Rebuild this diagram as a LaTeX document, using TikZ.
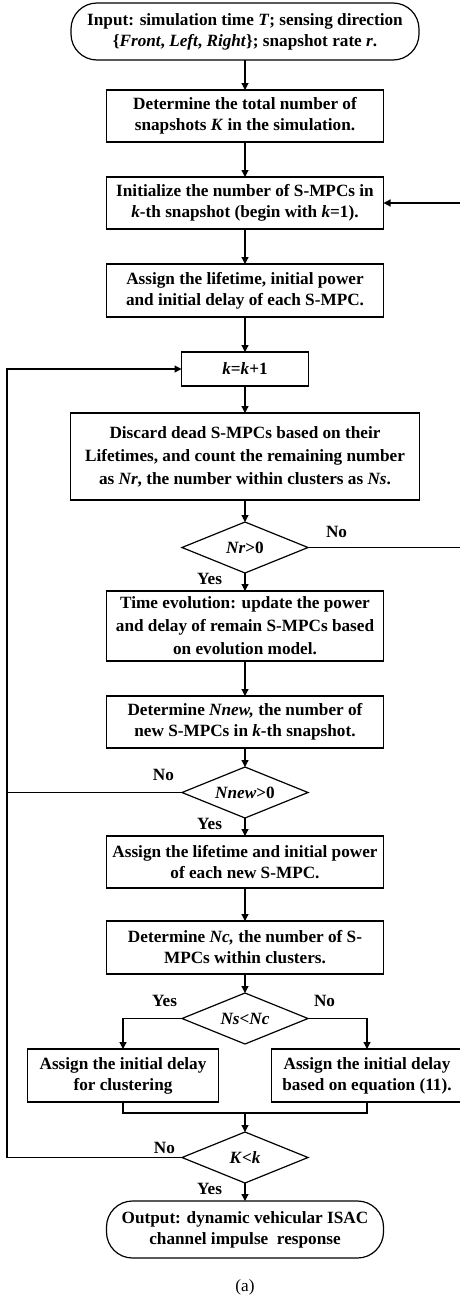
\documentclass[tikz,border=0pt]{standalone}
\usepackage{fontspec}
\setmainfont{Liberation Serif}
\usetikzlibrary{positioning}
\usetikzlibrary{calc}
\usetikzlibrary{shapes.geometric}
\usetikzlibrary{arrows.meta}

\begin{document}
\begin{tikzpicture}[
    font=\fontsize{8.6}{10.5}\selectfont\bfseries,
    line width=0.6pt,
    every node/.style={outer sep=0pt},
    box/.style={draw, rectangle, align=center, minimum width=138.5pt, minimum height=26pt, inner sep=1pt},
    term/.style={draw, rectangle, rounded corners=13pt, align=center, minimum height=28.5pt, inner sep=1pt},
    decision/.style={draw, diamond, aspect=2.5, minimum width=63pt, minimum height=25.5pt, inner sep=0pt},
    lbl/.style={inner sep=0pt},
    arr/.style={-{Triangle[length=3.5pt,width=3.5pt]}}
]
    \useasboundingbox (0,0) rectangle (230pt,-648pt);
    \clip (0,0) rectangle (230pt,-648pt);

    \node[term, minimum width=174pt] (inp) at (122.5pt,-15.75pt) {Input: simulation time \textit{T}; sensing direction\\\{\textit{Front}, \textit{Left}, \textit{Right}\}; snapshot rate \textit{r}.};
    \node[box, below=15pt of inp] (snap) {Determine the total number of\\snapshots \textit{K} in the simulation.};
    \node[box, below=17.5pt of snap] (init) {Initialize the number of S-MPCs in\\\textit{k}-th snapshot (begin with \textit{k}=1).};
    \node[box, below=17.5pt of init, minimum height=26.5pt] (assign) {Assign the lifetime, initial power\\and initial delay of each S-MPC.};
    \node[box, below=17.5pt of assign, minimum width=63.5pt, minimum height=17pt] (inc) {\textit{k}=\textit{k}+1};
    \node[box, below=13.5pt of inc, minimum width=174.5pt, minimum height=43.5pt] (discard) {Discard dead S-MPCs based on their\\[1pt]Lifetimes, and count the remaining number\\[1pt]as \textit{Nr}, the number within clusters as \textit{Ns}.};
    \node[decision, below=11pt of discard] (nr) {\textit{Nr}>0};
    \node[box, below=9pt of nr, minimum height=35pt] (evol) {Time evolution: update the power\\[1pt]and delay of remain S-MPCs based\\[1pt]on evolution model.};
    \node[box, below=17.5pt of evol] (detnew) {Determine \textit{Nnew,} the number of\\new S-MPCs in \textit{k}-th snapshot.};
    \node[decision, below=9.5pt of detnew] (nnew) {\textit{Nnew}>0};
    \node[box, below=9pt of nnew] (newlife) {Assign the lifetime and initial power\\of each new S-MPC.};
    \node[box, below=16.5pt of newlife, minimum height=26.5pt] (detnc) {Determine \textit{Nc,} the number of S-\\MPCs within clusters.};
    \node[decision, below=9.5pt of detnc] (nsnc) {\textit{Ns}<\textit{Nc}};
    \node[box, below=2.5pt of nsnc, xshift=-61pt, minimum width=95.5pt, minimum height=26.5pt] (clus) {Assign the initial delay\\for clustering};
    \node[box, below=2.5pt of nsnc, xshift=61pt, minimum width=95.5pt, minimum height=26.5pt] (eqn) {Assign the initial delay\\based on equation (11).};
    \node[decision, below=44pt of nsnc] (kk) {\textit{K}<\textit{k}};
    \node[term, below=9pt of kk, minimum width=138.5pt] (outp) {Output: dynamic vehicular ISAC\\channel impulse\ \ response};
    \node[lbl, below=11pt of outp, font=\fontsize{8.6}{10.5}\selectfont] (cap) {(a)};

    \node[lbl, above right=5pt and 9pt of nr.east] {No};
    \node[lbl, below left=0pt and 11.5pt of nr.south] {Yes};
    \node[lbl, above left=6pt and 4pt of nnew.west] {No};
    \node[lbl, below left=0pt and 11.5pt of nnew.south] {Yes};
    \node[lbl, above left=6pt and 2.5pt of nsnc.west] {Yes};
    \node[lbl, above right=6pt and 3pt of nsnc.east] {No};
    \node[lbl, above left=2pt and 3.5pt of kk.west] {No};
    \node[lbl, below left=0pt and 11.5pt of kk.south] {Yes};

    \coordinate (lft) at (3.5pt,0);
    \coordinate (rgt) at (231pt,0);

    \draw[arr] (inp) -- (snap);
    \draw[arr] (snap) -- (init);
    \draw[arr] (init) -- (assign);
    \draw[arr] (assign) -- (inc);
    \draw[arr] (inc) -- (discard);
    \draw[arr] (discard) -- (nr);
    \draw[arr] (nr) -- (evol);
    \draw[arr] (evol) -- (detnew);
    \draw[arr] (detnew) -- (nnew);
    \draw[arr] (nnew) -- (newlife);
    \draw[arr] (newlife) -- (detnc);
    \draw[arr] (detnc) -- (nsnc);
    \draw[arr] (nsnc.west) -| (clus.north);
    \draw[arr] (nsnc.east) -| (eqn.north);
    \coordinate[below=5.5pt of clus.south] (mrg);
    \draw (clus.south) -- (mrg) -| (eqn.south);
    \draw[arr] (mrg -| kk.north) -- (kk.north);
    \draw[arr] (kk) -- (outp);
    \draw[arr] (kk.west) -- (kk.west -| lft) |- (inc.west);
    \draw (nnew.west) -- (nnew.west -| lft);
    \draw[arr] (nr.east) -- (nr.east -| rgt) |- (init.east);
\end{tikzpicture}
\end{document}
